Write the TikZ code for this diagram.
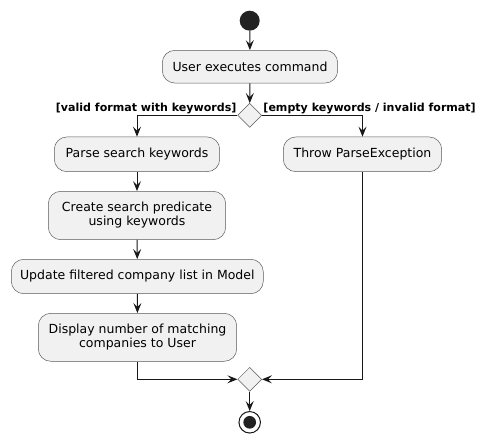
\documentclass[tikz,border=0pt]{standalone}
\usepackage{fontspec}
\setmainfont{DejaVu Sans}
\usetikzlibrary{arrows.meta}
\usetikzlibrary{shapes.geometric}

\definecolor{boxfill}{HTML}{F1F1F1}
\definecolor{linecol}{HTML}{181818}
\definecolor{dotfill}{HTML}{222222}

\begin{document}
\begin{tikzpicture}[x=1pt,y=-1pt,font=\fontsize{12.5}{14}\selectfont,
    % styles
    action/.style={draw=gray!70!black,fill=boxfill,rounded corners=12.5pt,align=center,inner sep=0pt,line width=0.5pt},
    branch/.style={diamond,draw=gray!70!black,fill=boxfill,minimum width=24pt,minimum height=24pt,inner sep=0pt,line width=0.5pt},
    flow line/.style={draw=linecol,line width=1pt,-{Stealth[length=10pt,width=8pt,inset=4pt]}},
    guard/.style={font=\fontsize{11.05}{13}\selectfont\bfseries,inner sep=0.5pt},
    start dot/.style={circle,fill=dotfill,minimum size=20pt,inner sep=0pt},
    stop ring/.style={circle,draw=linecol,fill=white,minimum size=21.5pt,inner sep=0pt,line width=1pt}]

  \useasboundingbox (0,0) rectangle (487,443);

  % start and stop
  \node (start) [start dot] at (249.7,20.7) {};
  \node (stop) [stop ring] at (249.7,422.3) {};
  \node (stopdot) [start dot,minimum size=12.7pt] at (stop) {};

  % actions
  \node (cmd) [action,minimum width=175.4pt,minimum height=32.7pt] at (250,66.7) {User executes command};
  \node (parse) [action,minimum width=165.4pt,minimum height=34.7pt] at (137,154.3) {Parse search keywords};
  \node (throw) [action,minimum width=158.4pt,minimum height=34.7pt] at (362.5,154.3) {Throw ParseException};
  \node (create) [action,minimum width=177.4pt,minimum height=48.4pt] at (137,215.5) {Create search predicate\\using keywords};
  \node (update) [action,minimum width=252pt,minimum height=34.4pt] at (137.3,276.5) {Update filtered company list in Model};
  \node (display) [action,minimum width=198.4pt,minimum height=48pt] at (137.5,337.3) {Display number of matching\\companies to User};

  % decisions
  \node (split) [branch] at (249.7,115.3) {};
  \node (merge) [branch] at (249.7,379.3) {};

  % flow
  \draw [flow line] (start) -- (cmd);
  \draw [flow line] (cmd) -- (split);
  \draw [flow line] (split.west) node [guard,anchor=south east] {[valid format with keywords]} -| (parse.north);
  \draw [flow line] (split.east) node [guard,anchor=south west,xshift=0.5pt] {[empty keywords / invalid format]} -| (throw.north);
  \draw [flow line] (parse) -- (create);
  \draw [flow line] (create) -- (update);
  \draw [flow line] (update) -- (display);
  \draw [flow line] (display.south) |- (merge.west);
  \draw [flow line] (throw.south) |- (merge.east);
  \draw [flow line] (merge) -- (stop);

\end{tikzpicture}
\end{document}
